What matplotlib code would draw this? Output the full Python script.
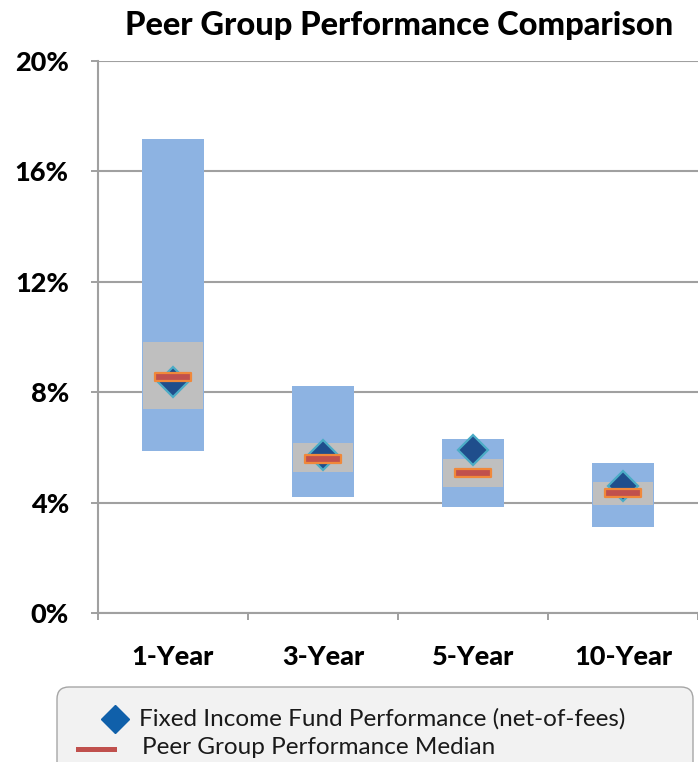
import matplotlib
matplotlib.use("Agg")
import matplotlib.pyplot as plt
from matplotlib.path import Path
from matplotlib.patches import FancyBboxPatch
from matplotlib.lines import Line2D
from matplotlib.transforms import IdentityTransform
from matplotlib.ticker import FixedLocator

# Peer universe ranges and fund results (annualised returns, %)
periods = ["1-Year", "3-Year", "5-Year", "10-Year"]
peer_high = [17.17, 8.22, 6.30, 5.42]
peer_low = [5.87, 4.21, 3.83, 3.10]
quartile_high = [9.82, 6.17, 5.57, 4.76]
quartile_low = [7.38, 5.10, 4.57, 3.91]
peer_median = [8.54, 5.57, 5.06, 4.35]
fund_return = [8.38, 5.71, 5.89, 4.61]
y_ticks = [0, 4, 8, 12, 16, 20]

FONT = "Lato"
W, H = 698, 762
fig = plt.figure(figsize=(W / 100, H / 100), dpi=100)
ax = fig.add_axes([98 / W, (H - 613) / H, 600 / W, 552 / H])

x = list(range(len(periods)))
bar_w = 0.41
ax.bar(x, [h - l for h, l in zip(peer_high, peer_low)], bottom=peer_low,
       width=bar_w, color="#8db3e2", zorder=2)
ax.bar(x, [h - l for h, l in zip(quartile_high, quartile_low)], bottom=quartile_low,
       width=bar_w * 0.98, color="#bfbfbf", zorder=3)

# Fund result diamonds
ax.plot(x, fund_return, linestyle="none", marker="D", markersize=15,
        markerfacecolor="#1f4e8c", markeredgecolor="#4bacc6",
        markeredgewidth=1.6, zorder=4)

# Median bars as flat rectangles
rect = Path([(-1, -0.2), (1, -0.2), (1, 0.2), (-1, 0.2), (-1, -0.2)],
            [Path.MOVETO, Path.LINETO, Path.LINETO, Path.LINETO, Path.CLOSEPOLY])
ax.plot(x, peer_median, linestyle="none", marker=rect, markersize=26,
        markerfacecolor="#c0504d", markeredgecolor="#f0883a",
        markeredgewidth=1.6, zorder=5)

ax.set_xlim(-0.5, len(periods) - 0.5)
ax.set_ylim(0, 20)
ax.set_yticks(y_ticks)
ax.set_yticklabels([f"{v}%" for v in y_ticks], fontfamily=FONT,
                   fontweight="black", fontsize=19.5)
ax.set_xticks(x)
ax.set_xticklabels(periods, fontfamily=FONT, fontweight="black", fontsize=19.5)
ax.xaxis.set_minor_locator(FixedLocator([i - 0.5 for i in range(len(periods) + 1)]))
ax.tick_params(axis="x", which="major", length=0, pad=23)
ax.tick_params(axis="x", which="minor", length=5, width=1.4, color="#a0a0a0",
               direction="out")
ax.tick_params(axis="y", length=5, width=1.4, color="#a0a0a0", pad=16)

ax.grid(axis="y", color="#a0a0a0", linewidth=1.5, zorder=0)
ax.set_axisbelow(True)
for side in ("top", "right"):
    ax.spines[side].set_visible(False)
for side in ("left", "bottom"):
    ax.spines[side].set_color("#a0a0a0")
    ax.spines[side].set_linewidth(1.5)
ax.spines["bottom"].set_zorder(1)

fig.text(399 / W, 1 - 25 / H, "Peer Group Performance Comparison",
         ha="center", va="center", fontfamily=FONT, fontweight="black",
         fontsize=23.5)

# Legend panel
px = IdentityTransform()
box = FancyBboxPatch((57, -30), 636, H - 687 + 30,
                     boxstyle="round,pad=0,rounding_size=12",
                     facecolor="#f2f2f2", edgecolor="#a6a6a6", linewidth=1,
                     transform=px)
fig.add_artist(box)
fig.add_artist(Line2D([115], [H - 719], marker="D", markersize=14,
                      color="#1060aa", linestyle="none", transform=px))
fig.add_artist(Line2D([78, 114], [H - 749, H - 749], color="#c0504d",
                      linewidth=3.6, transform=px))
fig.text(139 / W, 1 - 719 / H, "Fixed Income Fund Performance (net-of-fees)",
         ha="left", va="center", fontfamily=FONT, fontsize=17.5,
         color="#1a1a1a")
fig.text(142 / W, 1 - 748 / H, "Peer Group Performance Median",
         ha="left", va="center", fontfamily=FONT, fontsize=17.5,
         color="#1a1a1a")

fig.savefig("out.png", dpi=100)
